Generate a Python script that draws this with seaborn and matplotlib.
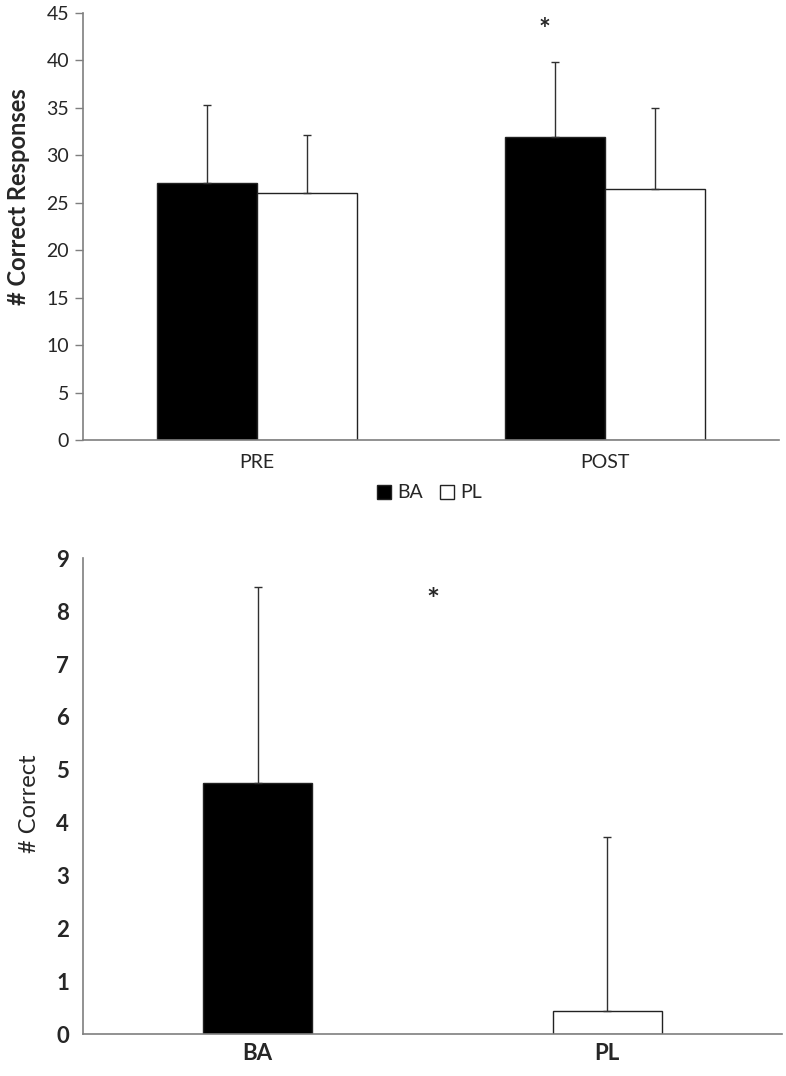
import matplotlib
matplotlib.use("Agg")
import matplotlib.pyplot as plt
import seaborn as sns
import pandas as pd
import numpy as np
from matplotlib.lines import Line2D

sns.set_theme(style="white")
plt.rcParams['font.family'] = ['Lato', 'DejaVu Sans']

# ---- data: top panel ----
times = ["PRE", "POST"]
groups = ["BA", "PL"]
ba_means = [27.1, 31.9]
pl_means = [26.0, 26.4]
ba_sd = [8.2, 7.9]
pl_sd = [6.1, 8.55]
top_yticks = [0, 5, 10, 15, 20, 25, 30, 35, 40, 45]
top_sig_label = "*"
top_sig_value = 43.2

# ---- data: bottom panel ----
bot_groups = ["BA", "PL"]
bot_means = [4.75, 0.435]
bot_sd = [3.71, 3.29]
bot_yticks = [0, 1, 2, 3, 4, 5, 6, 7, 8, 9]
bot_sig_value = 8.2

colors = {"BA": "black", "PL": "white"}
axis_grey = "#7f7f7f"
err_col = "#303030"

fig = plt.figure(figsize=(7.86, 10.76), dpi=100)
ax1 = fig.add_axes([0.1056, 0.591, 0.8854, 0.397])
ax2 = fig.add_axes([0.1056, 0.0388, 0.8894, 0.4424])

# ---- top panel ----
df_top = pd.DataFrame({
    "time": times * 2,
    "group": ["BA"] * 2 + ["PL"] * 2,
    "value": ba_means + pl_means,
    "sd": ba_sd + pl_sd,
})
sns.barplot(data=df_top, x="time", y="value", hue="group", order=times,
            hue_order=groups, palette=colors, edgecolor="#222222",
            linewidth=1.0, width=0.575, errorbar=None, ax=ax1, legend=False,
            saturation=1)
for patch, (_, row) in zip(ax1.patches, df_top.iterrows()):
    xc = patch.get_x() + patch.get_width() / 2
    top = patch.get_height()
    ax1.errorbar(xc, top, yerr=[[0], [row["sd"]]], fmt="none",
                 ecolor=err_col, elinewidth=1.0, capsize=3, capthick=1.0)

ax1.set_ylim(0, 45)
ax1.set_xlim(-0.5, 1.5)
ax1.set_yticks(top_yticks)
ax1.set_yticklabels([str(v) for v in top_yticks], fontsize=14)
ax1.set_xticks([0, 1])
ax1.set_xticklabels(times, fontsize=14)
ax1.set_xticks([-0.5, 0.5, 1.5], minor=True)
ax1.tick_params(axis="x", which="major", length=0, pad=10)
ax1.tick_params(axis="x", which="minor", length=6, width=1, color=axis_grey, direction="out")
ax1.tick_params(axis="y", length=6, width=1, color=axis_grey, direction="out", left=True, pad=4)
ax1.set_xlabel("")
ax1.set_ylabel("# Correct Responses", fontsize=17, fontweight="bold")
ax1.yaxis.set_label_coords(-0.076, 0.571)
for s in ["top", "right"]:
    ax1.spines[s].set_visible(False)
for s in ["left", "bottom"]:
    ax1.spines[s].set_color(axis_grey)
    ax1.spines[s].set_linewidth(1.2)
ba_post = ax1.patches[1]
ax1.text(ba_post.get_x() + ba_post.get_width() / 2 - 0.03, top_sig_value, top_sig_label,
         ha="center", va="center", fontsize=20, fontweight="bold")

handles = [Line2D([0], [0], marker="s", linestyle="none", markersize=10,
                  markerfacecolor=colors[g], markeredgecolor="#222222", markeredgewidth=1)
           for g in groups]
fig.legend(handles, groups, loc="center", bbox_to_anchor=(0.546, 0.542), ncol=2,
           frameon=False, fontsize=14, handletextpad=0.3, columnspacing=0.8,
           handlelength=0.8)

# ---- bottom panel ----
df_bot = pd.DataFrame({"group": bot_groups, "value": bot_means, "sd": bot_sd})
sns.barplot(data=df_bot, x="group", y="value", hue="group", order=bot_groups,
            palette=colors, edgecolor="#222222", linewidth=1.0, width=0.313,
            errorbar=None, ax=ax2, legend=False, saturation=1)
for patch, (_, row) in zip(ax2.patches, df_bot.iterrows()):
    xc = patch.get_x() + patch.get_width() / 2
    top = patch.get_height()
    ax2.errorbar(xc, top, yerr=[[0], [row["sd"]]], fmt="none",
                 ecolor=err_col, elinewidth=1.0, capsize=3, capthick=1.0)

ax2.set_ylim(0, 9)
ax2.set_xlim(-0.5, 1.5)
ax2.set_yticks(bot_yticks)
ax2.set_yticklabels([str(v) for v in bot_yticks], fontsize=16, fontweight="bold")
ax2.set_xticks([0, 1])
ax2.set_xticklabels(bot_groups, fontsize=16, fontweight="bold")
ax2.set_xticks([-0.5, 0.5, 1.5], minor=True)
ax2.tick_params(axis="x", which="major", length=0, pad=6)
ax2.tick_params(axis="x", which="minor", length=6, width=1, color=axis_grey, direction="out")
ax2.tick_params(axis="y", length=0, pad=10)
ax2.set_xlabel("")
ax2.set_ylabel("# Correct", fontsize=17)
ax2.yaxis.set_label_coords(-0.0615, 0.484)
for s in ["top", "right"]:
    ax2.spines[s].set_visible(False)
for s in ["left", "bottom"]:
    ax2.spines[s].set_color(axis_grey)
    ax2.spines[s].set_linewidth(1.2)
ax2.text(0.5, bot_sig_value, "*", ha="center", va="center", fontsize=22, fontweight="bold")

fig.savefig("out.png", dpi=100, facecolor="white")
